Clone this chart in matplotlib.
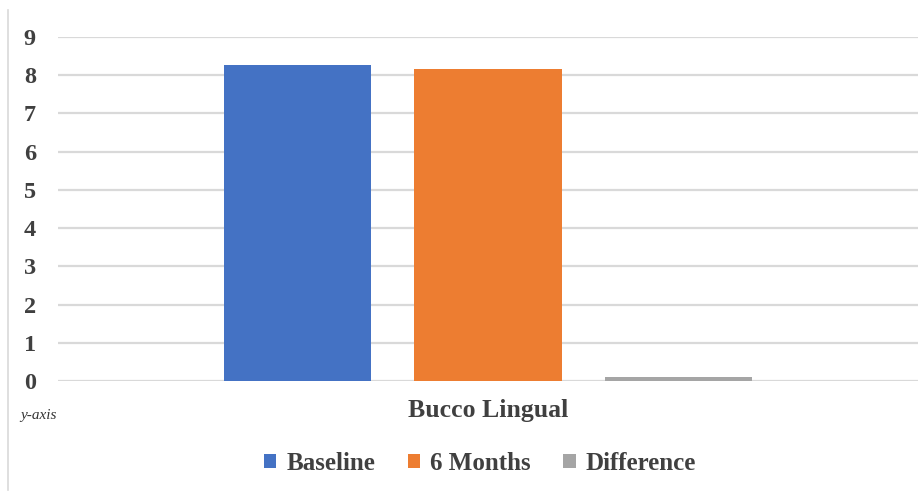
import matplotlib
matplotlib.use("Agg")
import matplotlib.pyplot as plt
from matplotlib.patches import Patch
from matplotlib.lines import Line2D

category = "Bucco Lingual"
series = ["Baseline", "6 Months", "Difference"]
values = [8.27, 8.17, 0.10]
colors = ["#4472C4", "#ED7D31", "#A5A5A5"]
y_ticks = list(range(0, 10))

serif = ["Liberation Serif", "DejaVu Serif"]
text_color = "#404040"

fig = plt.figure(figsize=(9.18, 4.95), dpi=100)
ax = fig.add_axes([58 / 918, 1 - 381 / 495, 1 - 58 / 918, (381 - 37) / 495])

offsets = [-0.2215, 0.0, 0.2215]
bar_w = 0.172
for off, v, c, name in zip(offsets, values, colors, series):
    ax.bar(off, v, width=bar_w, color=c, label=name, zorder=3)

ax.set_xlim(-0.5, 0.5)
ax.set_ylim(0, 9)
ax.set_yticks(y_ticks)
ax.set_yticklabels([str(t) for t in y_ticks], fontfamily=serif,
                   fontweight="bold", fontsize=17.5, color=text_color)
ax.tick_params(axis="y", length=0, pad=16)
ax.set_xticks([])
ax.grid(axis="y", color="#d9d9d9", linewidth=1.6, zorder=0)
for s in ax.spines.values():
    s.set_visible(False)

fig.text(488 / 918, 1 - 411 / 495, category, ha="center", va="center",
         fontfamily=serif, fontweight="bold", fontsize=18.5, color=text_color)
fig.text(20 / 918, 1 - 416 / 495, "y-axis", ha="left", va="center",
         fontfamily=serif, fontstyle="italic", fontsize=11, color="#333333")

handles = [Patch(facecolor=c, edgecolor="none") for c in colors]
leg = fig.legend(handles, series, loc="center", bbox_to_anchor=(480 / 918, 1 - 463 / 495),
                 ncol=3, frameon=False, handlelength=0.5, handleheight=0.5,
                 handletextpad=0.4, columnspacing=1.3,
                 prop={"family": serif, "weight": "bold", "size": 18})
for t in leg.get_texts():
    t.set_color(text_color)

fig.add_artist(Line2D([8 / 918, 8 / 918], [1 - 490 / 495, 1 - 10 / 495],
                      color="#d9d9d9", linewidth=1.2))

fig.savefig("out.png", dpi=100)
